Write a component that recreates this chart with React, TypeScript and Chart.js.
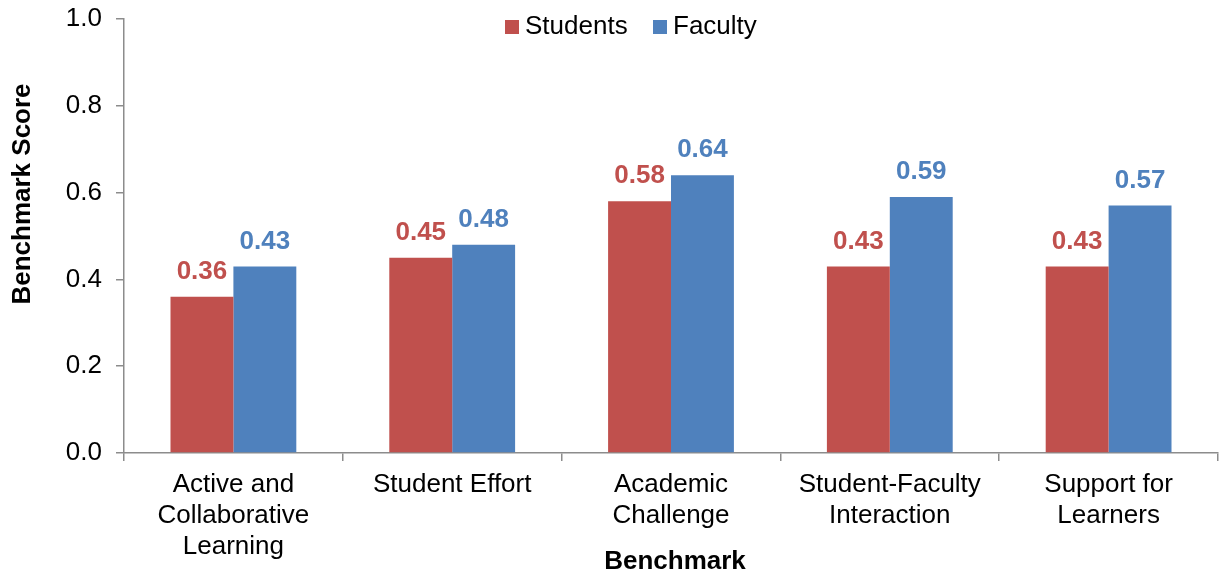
import React, { useEffect, useRef } from "react";
import { Chart, registerables } from "chart.js";

Chart.register(...registerables);

const categories: string[][] = [
  ["Active and", "Collaborative", "Learning"],
  ["Student Effort"],
  ["Academic", "Challenge"],
  ["Student-Faculty", "Interaction"],
  ["Support for", "Learners"],
];
const studentScores = [0.36, 0.45, 0.58, 0.43, 0.43];
const facultyScores = [0.43, 0.48, 0.64, 0.59, 0.57];
const seriesNames = ["Students", "Faculty"];
const seriesColors = ["#C0504D", "#4F81BD"];
const yTitle = "Benchmark Score";
const xTitle = "Benchmark";

const FONT = "'Liberation Sans', Arial, sans-serif";
const AXIS_GRAY = "#8C8C8C";

const annotations = {
  id: "annotations",
  afterDatasetsDraw(chart: Chart) {
    const ctx = chart.ctx;
    ctx.save();
    // value labels above each bar
    ctx.font = `bold 26px ${FONT}`;
    ctx.textAlign = "center";
    ctx.textBaseline = "middle";
    chart.data.datasets.forEach((ds, di) => {
      const meta = chart.getDatasetMeta(di);
      meta.data.forEach((bar: any, i: number) => {
        const v = ds.data[i] as number;
        ctx.fillStyle = seriesColors[di];
        ctx.fillText(v.toFixed(2), bar.x, bar.y - 25);
      });
    });
    ctx.restore();
  },
  afterDraw(chart: Chart) {
    const ctx = chart.ctx;
    ctx.save();
    // legend
    ctx.font = `26px ${FONT}`;
    ctx.textBaseline = "middle";
    ctx.textAlign = "left";
    const legendX = [505, 653];
    seriesNames.forEach((name, i) => {
      ctx.fillStyle = seriesColors[i];
      ctx.fillRect(legendX[i], 20, 14, 14);
      ctx.fillStyle = "#000";
      ctx.fillText(name, legendX[i] + 20, 27);
    });
    // axis titles
    ctx.font = `bold 26px ${FONT}`;
    ctx.fillStyle = "#000";
    ctx.textAlign = "center";
    ctx.fillText(xTitle, 675, 562);
    ctx.translate(23, 194);
    ctx.rotate(-Math.PI / 2);
    ctx.fillText(yTitle, 0, 0);
    ctx.restore();
  },
};

export default function App() {
  const canvasRef = useRef<HTMLCanvasElement | null>(null);

  useEffect(() => {
    if (!canvasRef.current) return;
    const chart = new Chart(canvasRef.current, {
      type: "bar",
      data: {
        labels: categories,
        datasets: [
          {
            label: seriesNames[0],
            data: studentScores,
            backgroundColor: seriesColors[0],
            categoryPercentage: 0.575,
            barPercentage: 1,
          },
          {
            label: seriesNames[1],
            data: facultyScores,
            backgroundColor: seriesColors[1],
            categoryPercentage: 0.575,
            barPercentage: 1,
          },
        ],
      },
      options: {
        responsive: false,
        animation: false,
        layout: { padding: { left: 0, right: 1, top: 19, bottom: 0 } },
        plugins: {
          legend: { display: false },
          tooltip: { enabled: false },
        },
        scales: {
          x: {
            grid: {
              display: true,
              drawOnChartArea: false,
              drawTicks: true,
              tickLength: 8,
              color: AXIS_GRAY,
              lineWidth: 1.5,
              offset: true,
            },
            border: { color: AXIS_GRAY, width: 1.5 },
            ticks: {
              color: "#000",
              font: { family: FONT, size: 26, lineHeight: 1.2 },
              padding: 8,
              maxRotation: 0,
              autoSkip: false,
            },
            afterFit(scale: any) {
              scale.height = 120;
              scale.paddingLeft = 0;
              scale.paddingRight = 0;
            },
          },
          y: {
            min: 0,
            max: 1,
            ticks: {
              stepSize: 0.2,
              color: "#000",
              font: { family: FONT, size: 26 },
              padding: 14,
              callback: (v: any) => Number(v).toFixed(1),
            },
            grid: {
              display: true,
              drawOnChartArea: false,
              drawTicks: true,
              tickLength: 8,
              color: AXIS_GRAY,
              lineWidth: 1.5,
            },
            border: { color: AXIS_GRAY, width: 1.5 },
            afterFit(scale: any) {
              scale.width = 124;
              scale.paddingTop = 0;
              scale.paddingBottom = 0;
            },
          },
        },
      },
      plugins: [annotations],
    });
    return () => chart.destroy();
  }, []);

  return (
    <div style={{ position: "fixed", left: 0, top: 0, width: 1219, height: 573, background: "#fff" }}>
      <canvas ref={canvasRef} width={1219} height={573} />
    </div>
  );
}
